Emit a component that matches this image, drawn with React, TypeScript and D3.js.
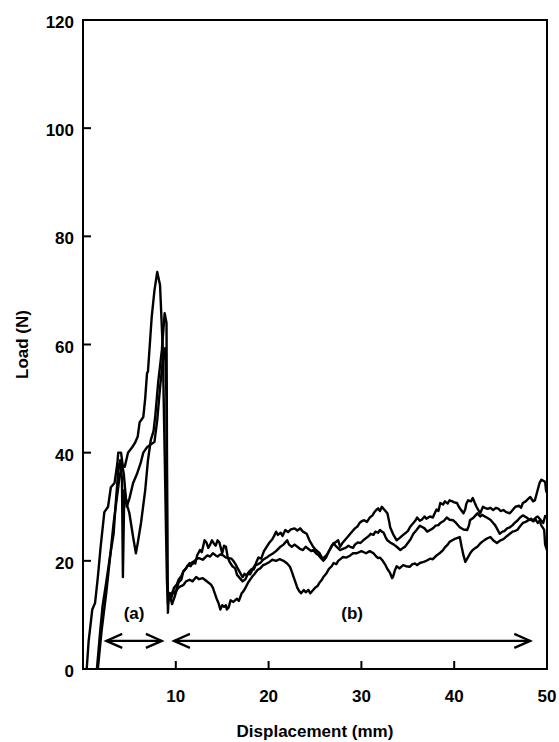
import React from "react";
import * as d3 from "d3";

// ---- data ----
const yTicks = [0, 20, 40, 60, 80, 100, 120];
const xTicks = [10, 20, 30, 40, 50];
const xLabel = "Displacement (mm)";
const yLabel = "Load (N)";

// displacement (mm), load (N)
const curveA: [number, number][] = [
  [0.4, 0], [0.6, 5], [1.0, 11], [1.3, 12.2], [1.6, 17], [1.9, 22.6], [2.3, 29], [2.7, 30], [3.0, 33.6],
  [3.4, 34.4], [3.7, 38], [3.8, 40], [4.1, 40], [4.3, 37.4], [4.5, 37.4], [4.85, 40], [5.3, 41], [5.6, 41.8],
  [5.9, 43], [6.1, 45.6], [6.5, 46.6], [6.7, 50], [6.9, 54.7], [7.0, 55], [7.2, 60], [7.4, 65], [7.7, 70],
  [8.0, 73.4], [8.3, 71], [8.6, 59], [8.8, 40], [8.95, 25], [9.05, 16], [9.15, 12],
  [9.3, 14], [9.6, 12], [9.9, 13.5], [10.1, 14.6], [10.4, 15.2], [10.8, 15.5], [11.1, 16.2], [11.5, 16.5],
  [11.8, 16.2], [12.2, 17], [12.5, 16.6], [12.9, 16.8], [13.2, 16.4], [13.5, 16], [13.8, 15.6], [14.0, 15],
  [14.2, 14], [14.4, 13], [14.6, 12.2], [14.8, 11], [15.0, 11.8], [15.2, 11.5], [15.4, 11.8], [15.5, 11],
  [15.7, 11.4], [15.9, 12.7], [16.2, 12.4], [16.6, 13], [16.8, 12.6], [17.1, 14], [17.3, 14.4], [17.5, 15],
  [17.8, 16], [18.2, 17], [18.5, 17.6], [18.8, 18.3], [19.1, 18.6], [19.4, 19.2], [19.7, 19.4], [20.1, 19.8],
  [20.4, 20.2], [20.8, 20], [21.2, 20.3], [21.6, 20], [22.0, 19.5], [22.3, 18.9], [22.5, 18], [22.7, 17],
  [22.9, 16], [23.1, 15], [23.3, 14.4], [23.5, 14], [23.8, 14.6], [24.0, 14.2], [24.3, 14.6], [24.5, 14],
  [24.8, 14.6], [25.0, 15], [25.3, 15.4], [25.5, 16], [25.7, 16.4], [25.9, 17], [26.2, 17.6], [26.5, 18.5],
  [26.8, 19], [27.0, 19.6], [27.3, 19.4], [27.5, 20], [27.8, 20.4], [28.0, 20.7], [28.4, 20.6], [28.8, 21],
  [29.1, 21.4], [29.5, 21.4], [30.0, 21.8], [30.5, 21.4], [30.9, 21.8], [31.3, 21.4], [31.6, 20.8], [31.8, 20.5],
  [32.0, 20.6], [32.3, 20], [32.6, 19.2], [32.8, 18.5], [33.0, 18], [33.1, 17.7], [33.3, 16.8], [33.4, 17],
  [33.6, 18.2], [33.8, 19], [34.1, 18.6], [34.5, 19.2], [34.8, 19], [35.2, 18.9], [35.5, 19.4], [35.8, 19.5],
  [36.0, 19.2], [36.3, 19.6], [36.7, 19.8], [37.0, 20], [37.4, 20.4], [37.7, 20.3], [38.1, 21], [38.5, 21.5],
  [38.8, 22], [39.0, 22.5], [39.3, 23], [39.5, 23.5], [39.8, 23.8], [40.0, 24], [40.3, 24.2], [40.6, 24.4],
  [40.8, 22.6], [41.0, 21], [41.2, 19.8], [41.4, 20.4], [41.6, 21], [41.8, 21.6], [42.0, 22], [42.3, 22.4],
  [42.5, 22.6], [42.8, 23.2], [43.0, 23.5], [43.4, 24], [43.9, 24.4], [44.2, 23.8], [44.6, 23.3], [45.0, 23.8],
  [45.3, 24], [45.7, 24.6], [46.0, 25], [46.3, 25.4], [46.5, 25.5], [46.8, 25.7], [47.1, 26.4], [47.4, 27],
  [47.7, 27.2], [48.0, 27.5], [48.3, 27.8], [48.5, 27.3], [48.8, 27.6], [49.0, 27], [49.2, 27.4], [49.4, 26.5],
  [49.6, 26], [49.7, 25.7], [49.8, 23], [50.0, 22],
];

const curveB: [number, number][] = [
  [1.5, 0], [1.8, 6], [2.1, 11.5], [2.5, 16], [2.9, 20.7], [3.3, 25], [3.5, 30], [3.8, 36.8], [4.0, 38.6],
  [4.2, 35], [4.3, 17], [4.45, 33], [4.8, 30], [5.0, 28.8], [5.4, 24.4], [5.7, 21.4], [5.9, 23.3], [6.25, 27],
  [6.7, 33], [7.0, 38.6], [7.3, 42.3], [7.6, 44], [7.8, 47], [8.1, 53], [8.5, 59], [8.8, 65.8], [9.0, 64],
  [9.05, 40], [9.1, 20], [9.15, 10.4], [9.25, 14],
  [9.4, 13], [9.7, 14.5], [9.9, 13.8], [10.3, 16], [10.6, 16.5], [10.8, 18], [11.1, 18.6], [11.3, 19.2],
  [11.6, 19], [11.8, 19.8], [12.1, 19.5], [12.3, 21], [12.6, 22], [12.8, 21.6], [13.1, 23.8], [13.3, 23.4],
  [13.5, 22.4], [13.7, 23], [13.9, 23.8], [14.1, 23.2], [14.3, 22.8], [14.5, 23.8], [14.7, 23.4], [15.0, 21.4],
  [15.2, 22.8], [15.4, 22.6], [15.6, 20.6], [15.8, 19.8], [16.1, 19], [16.4, 18.6], [16.6, 17.4], [16.9, 16.8],
  [17.2, 16.2], [17.5, 16.6], [17.8, 17.7], [18.0, 17.5], [18.3, 18.5], [18.6, 19.4], [18.9, 20.6], [19.2, 20.4],
  [19.5, 21.8], [19.8, 22.6], [20.1, 23.4], [20.4, 24], [20.6, 24.6], [20.8, 25.4], [21.0, 24.8], [21.3, 25.2],
  [21.5, 24.6], [21.8, 25.7], [22.1, 25.3], [22.4, 25.8], [22.8, 26], [23.1, 25.6], [23.4, 26], [23.7, 25.4],
  [24.1, 25], [24.4, 23.8], [24.8, 22.6], [25.1, 22], [25.5, 21.4], [25.8, 20.4], [26.1, 20.8], [26.4, 21.4],
  [26.8, 22.8], [27.1, 23.3], [27.5, 23.8], [27.7, 22.6], [28.0, 23.4], [28.3, 24], [28.6, 24.6], [28.8, 25],
  [29.1, 25.6], [29.3, 26], [29.6, 26.4], [29.8, 27], [30.1, 27.4], [30.3, 27.5], [30.6, 27.2], [30.9, 28],
  [31.2, 28.4], [31.4, 29], [31.6, 29.4], [31.8, 29.7], [32.0, 29.2], [32.2, 30], [32.5, 29.4], [32.8, 28.8],
  [33.0, 27.2], [33.1, 26.2], [33.4, 25], [33.6, 24.4], [33.8, 23.8], [34.1, 24.2], [34.5, 24.8], [34.8, 25.2],
  [35.0, 25.5], [35.3, 26.4], [35.6, 27], [35.8, 27.4], [36.0, 28], [36.3, 27.4], [36.5, 27.6], [36.8, 28.2],
  [37.0, 27.8], [37.4, 28.2], [37.7, 28], [37.9, 28.8], [38.1, 29.5], [38.3, 29.2], [38.5, 30.7], [38.8, 30.4],
  [39.0, 31], [39.3, 30.6], [39.5, 31.2], [39.8, 31], [40.0, 30.8], [40.3, 30.7], [40.5, 30], [40.7, 29.5],
  [41.0, 28.8], [41.2, 29.6], [41.3, 30.5], [41.5, 31.2], [41.8, 31], [42.0, 31.6], [42.2, 30.8], [42.4, 30],
  [42.6, 29.4], [42.8, 28.8], [43.1, 30], [43.3, 29.8], [43.6, 29.6], [43.9, 29.8], [44.2, 29.4], [44.5, 29.8],
  [44.8, 29.6], [45.0, 29.2], [45.3, 29.4], [45.6, 29], [46.0, 28.8], [46.3, 29.4], [46.6, 30], [47.0, 30.2],
  [47.2, 29.8], [47.4, 30.7], [47.7, 31], [48.0, 31.5], [48.2, 31.8], [48.5, 31], [48.7, 31.2], [48.9, 32.5],
  [49.2, 34.4], [49.4, 35], [49.6, 34.8], [49.8, 34.6], [49.9, 33], [50.0, 32.5],
];

const curveC: [number, number][] = [
  [1.6, 0], [2.0, 7], [2.5, 14], [3.0, 22], [3.3, 27], [3.6, 31], [3.9, 35], [4.2, 38], [4.4, 36], [4.6, 32],
  [4.7, 30], [5.0, 31.5], [5.4, 34.4], [5.8, 36], [6.2, 38], [6.5, 40], [6.9, 41], [7.3, 41.5], [7.7, 42],
  [8.0, 46], [8.3, 52], [8.6, 57], [8.85, 59.3], [9.0, 50], [9.05, 30], [9.1, 16], [9.2, 13], [9.4, 14],
  [9.5, 13], [9.8, 15], [10.1, 15.6], [10.3, 16.5], [10.6, 17.2], [10.8, 18], [11.1, 18.6], [11.5, 19.6],
  [11.8, 19.4], [12.0, 20], [12.3, 20.4], [12.5, 20.5], [12.9, 20.2], [13.4, 21], [13.7, 20.8], [14.0, 21.4],
  [14.3, 21], [14.5, 20.8], [14.8, 21.2], [15.1, 21], [15.4, 20.6], [15.7, 20.5], [16.0, 20.4], [16.2, 20],
  [16.5, 19.2], [16.7, 18.5], [17.0, 17.6], [17.2, 17], [17.4, 17.6], [17.6, 17.3], [17.9, 18], [18.2, 18.5],
  [18.4, 18.4], [18.6, 19.2], [18.9, 19.4], [19.1, 19.6], [19.4, 20.2], [19.8, 20.6], [20.1, 21], [20.5, 21.4],
  [20.8, 21.8], [21.2, 22.5], [21.6, 23], [22.0, 23.8], [22.2, 23], [22.5, 22.6], [22.8, 23], [23.1, 22.6],
  [23.4, 22.2], [23.7, 22], [24.0, 22.6], [24.3, 22.2], [24.6, 21.8], [24.8, 22], [25.1, 21.4], [25.4, 21],
  [25.7, 20.4], [25.9, 20], [26.2, 20.6], [26.4, 21.5], [26.7, 22.4], [27.0, 23.3], [27.2, 22.8], [27.4, 22.5],
  [27.7, 22], [28.0, 22.2], [28.3, 22.4], [28.6, 22.8], [28.8, 22.6], [29.1, 22.4], [29.3, 23], [29.6, 23.4],
  [29.9, 23.3], [30.2, 23.8], [30.5, 24.2], [30.8, 24.6], [31.0, 25], [31.3, 24.8], [31.5, 25.4], [31.8, 25.2],
  [32.0, 25.7], [32.2, 25.4], [32.4, 25.2], [32.6, 24.4], [32.8, 23.8], [33.1, 23.4], [33.5, 23], [33.8, 22.6],
  [34.2, 22], [34.5, 22.4], [34.7, 22.6], [35.0, 23.3], [35.3, 24], [35.6, 25], [35.9, 25.6], [36.3, 26.5],
  [36.6, 26.2], [36.8, 26], [37.1, 25.4], [37.4, 25.7], [37.7, 26], [38.0, 26.5], [38.3, 26.6], [38.5, 27],
  [38.9, 27.4], [39.2, 28], [39.5, 27.6], [39.9, 27.5], [40.2, 27], [40.6, 26.2], [41.0, 25.8], [41.4, 25.7],
  [41.6, 26.6], [41.7, 27.5], [42.1, 28], [42.3, 28.4], [42.5, 28.8], [42.8, 28.2], [43.0, 28.5], [43.3, 28.2],
  [43.5, 28], [43.9, 27.6], [44.2, 27], [44.4, 26.6], [44.6, 26], [44.9, 25], [45.2, 25.4], [45.4, 25.5],
  [45.7, 26], [46.0, 26.2], [46.3, 26.6], [46.5, 27], [46.8, 27.4], [47.1, 28], [47.4, 28.4], [47.8, 28],
  [48.1, 27.6], [48.5, 27.5], [48.8, 28], [49.0, 28.2], [49.3, 27.6], [49.6, 27], [49.8, 28.3], [50.0, 28],
];

const curves = [curveA, curveB, curveC];

// region annotations: [from, to] displacement, label
const regionA: [number, number] = [2.5, 8.5];
const regionB: [number, number] = [9.8, 48.2];
const regionLabels = ["(a)", "(b)"];
const arrowLoad = 5.2;
const labelLoad = 9.3;

const W = 559;
const H = 742;
const M = { left: 83, top: 20, right: 12, bottom: 73 };

export default function App() {
  const x = d3.scaleLinear().domain([0, 50]).range([M.left, W - M.right]);
  const y = d3.scaleLinear().domain([0, 120]).range([H - M.bottom, M.top]);
  const line = d3
    .line<[number, number]>()
    .x((d) => x(d[0]))
    .y((d) => y(d[1]));

  const font = "'Liberation Sans', Arial, sans-serif";
  const tickLen = 8;
  const x0 = x(0);
  const x1 = x(50);
  const y0 = y(0);
  const y1 = y(120);

  const arrow = (a: number, b: number) => {
    const xa = x(a);
    const xb = x(b);
    const yy = y(arrowLoad);
    const hl = 16;
    const hw = 7;
    return (
      <g fill="none" stroke="#000" strokeWidth={2.2} strokeLinejoin="miter">
        <line x1={xa} x2={xb} y1={yy} y2={yy} />
        <path d={`M${xa + hl},${yy - hw} L${xa},${yy} L${xa + hl},${yy + hw}`} />
        <path d={`M${xb - hl},${yy - hw} L${xb},${yy} L${xb - hl},${yy + hw}`} />
      </g>
    );
  };

  return (
    <svg
      width={W}
      height={H}
      style={{ position: "absolute", left: 0, top: 0, background: "#fff" }}
      fontFamily={font}
      fontWeight="bold"
    >
      <rect width={W} height={H} fill="#fff" />
      {/* curves */}
      <g fill="none" stroke="#000" strokeWidth={2.4} strokeLinejoin="round">
        {curves.map((c, i) => (
          <path key={i} d={line(c) || ""} />
        ))}
      </g>
      {/* frame */}
      <rect x={x0} y={y1} width={x1 - x0} height={y0 - y1} fill="none" stroke="#000" strokeWidth={2} />
      {/* y ticks */}
      {yTicks.map((t) => (
        <g key={"y" + t}>
          {t > 0 && t < 120 && <line x1={x0} x2={x0 + tickLen} y1={y(t)} y2={y(t)} stroke="#000" strokeWidth={2} />}
          <text x={x0 - 9} y={y(t) + 8} textAnchor="end" fontSize={17}>
            {t}
          </text>
        </g>
      ))}
      {/* x ticks */}
      {xTicks.map((t) => (
        <g key={"x" + t}>
          {t < 50 && <line x1={x(t)} x2={x(t)} y1={y0} y2={y0 - tickLen} stroke="#000" strokeWidth={2} />}
          <text x={x(t)} y={y0 + 33} textAnchor="middle" fontSize={17}>
            {t}
          </text>
        </g>
      ))}
      {/* axis titles */}
      <text x={(x0 + x1) / 2} y={H - 5} textAnchor="middle" fontSize={17}>
        {xLabel}
      </text>
      <text transform={`translate(${22},${(y0 + y1) / 2}) rotate(-90)`} textAnchor="middle" fontSize={17} dy="0.35em">
        {yLabel}
      </text>
      {/* region annotations */}
      {arrow(regionA[0], regionA[1])}
      {arrow(regionB[0], regionB[1])}
      <text x={x((regionA[0] + regionA[1]) / 2)} y={y(labelLoad)} textAnchor="middle" fontSize={17}>
        {regionLabels[0]}
      </text>
      <text x={x((regionB[0] + regionB[1]) / 2)} y={y(labelLoad)} textAnchor="middle" fontSize={17}>
        {regionLabels[1]}
      </text>
    </svg>
  );
}
